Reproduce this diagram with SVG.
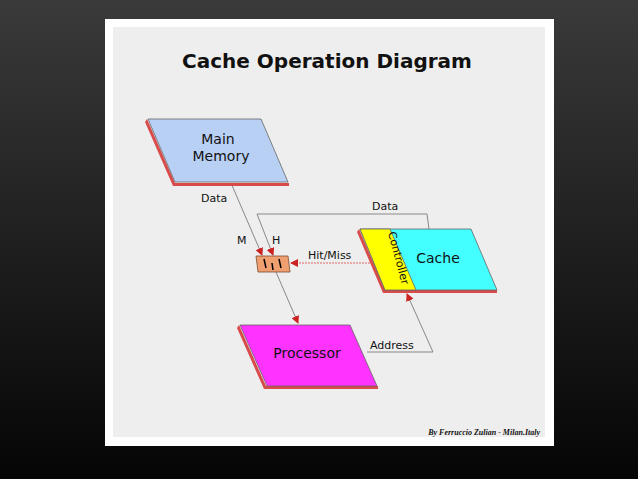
<svg xmlns="http://www.w3.org/2000/svg" width="638" height="479" viewBox="0 0 638 479">
<defs>
<linearGradient id="bg" x1="0" y1="0" x2="0" y2="1"><stop offset="0" stop-color="#3a3a3a"/><stop offset="1" stop-color="#050505"/></linearGradient>
<marker id="ar" markerWidth="8" markerHeight="8" refX="7" refY="4" orient="auto" markerUnits="userSpaceOnUse"><path d="M0,0 L8,4 L0,8 z" fill="#cc2222"/></marker>
<style>
.t{font-family:"DejaVu Sans",sans-serif;fill:#111}
.ln{fill:none;stroke:#888;stroke-width:1}
.sh{fill:#d94a4a}
.bd{stroke:#666;stroke-width:0.8}
</style>
</defs>
<rect width="638" height="479" fill="url(#bg)"/>
<rect x="105" y="19" width="449" height="427" fill="#fff"/>
<rect x="113" y="27" width="432" height="410" fill="#eeeeee"/>
<text class="t" x="327" y="68" font-size="20" font-weight="bold" text-anchor="middle">Cache Operation Diagram</text>
<g id="connectors">
<line class="ln" x1="231" y1="183" x2="262" y2="255" marker-end="url(#ar)"/>
<polyline class="ln" points="429,229 427,214 257,214 273,255" marker-end="url(#ar)"/>
<line x1="385" y1="263" x2="291" y2="263" stroke="#d66" stroke-width="1" stroke-dasharray="2,1" marker-end="url(#ar)"/>
<line class="ln" x1="276" y1="272" x2="298" y2="323" marker-end="url(#ar)"/>
<polyline class="ln" points="367,352 433,352 407,294" marker-end="url(#ar)"/>
</g>
<g id="main-memory">
<polygon class="sh" points="147,119 175,183 289,183 289,186 173,186 145,122"/>
<polygon class="bd" points="148,119 261,119 288,182 175,182" fill="#b9d0f5"/>
<text class="t" x="218" y="144" font-size="14" text-anchor="middle">Main</text>
<text class="t" x="221" y="161" font-size="14" text-anchor="middle">Memory</text>
</g>
<g id="cache">
<polygon class="sh" points="359,229 385,290 497,290 497,293 383,293 357,232"/>
<polygon class="bd" points="360,229 471,229 497,290 385,290" fill="#44ffff"/>
<polygon class="bd" points="360,229 390,229 416,290 385,290" fill="#ffff00"/>
<text class="t" x="438" y="263" font-size="14" text-anchor="middle">Cache</text>
<text class="t" font-size="11" text-anchor="middle" transform="translate(395,259) rotate(75)">Controller</text>
</g>
<g id="processor">
<polygon class="sh" points="239,325 266,386 378,386 378,389 264,389 237,328"/>
<polygon class="bd" points="240,325 350,325 377,386 267,386" fill="#ff33ff"/>
<text class="t" x="307" y="358" font-size="14" text-anchor="middle" fill="#3a0a4a">Processor</text>
</g>
<g id="switch">
<polygon points="256,256 288,256 290,272 258,272" fill="#f0a070" stroke="#7a4a30" stroke-width="0.8"/>
<line x1="264" y1="259" x2="266" y2="268" stroke="#000" stroke-width="1.5"/>
<line x1="272" y1="263" x2="273" y2="270" stroke="#000" stroke-width="1.5"/>
<line x1="279" y1="259" x2="281" y2="268" stroke="#000" stroke-width="1.5"/>
</g>
<g id="labels" class="t" font-size="11">
<text x="201" y="202">Data</text>
<text x="372" y="210">Data</text>
<text x="237" y="244">M</text>
<text x="272" y="244">H</text>
<text x="308" y="259">Hit/Miss</text>
<text x="370" y="349">Address</text>
</g>
<text x="540" y="435" font-family="Liberation Serif,serif" font-size="8" font-style="italic" font-weight="bold" text-anchor="end" fill="#111">By Ferruccio Zulian - Milan.Italy</text>
</svg>
